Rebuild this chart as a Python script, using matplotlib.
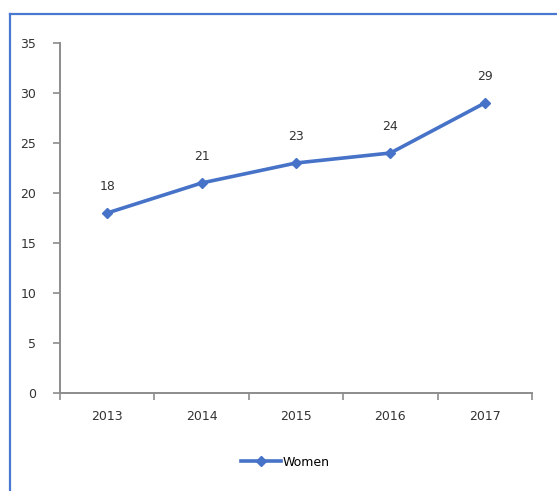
import matplotlib.pyplot as plt
from matplotlib.lines import Line2D

years = ['2013', '2014', '2015', '2016', '2017']
women = [18, 21, 23, 24, 29]

line_color = '#4673c8'
axis_color = '#8c8c8c'

fig = plt.figure(figsize=(5.57, 4.91), dpi=100)
ax = fig.add_axes([60/557, 1 - 393/491, 472/557, 350/491])

x = list(range(len(years)))
ax.plot(x, women, color=line_color, lw=2.6, marker='D', ms=5, label='Women')
for xi, v in zip(x, women):
    ax.annotate(str(v), (xi, v), xytext=(0, 19), textcoords='offset points',
                ha='center', va='center', fontsize=9, color='#333333')

ax.set_xlim(-0.5, len(years) - 0.5)
ax.set_ylim(0, 35)
ax.set_yticks(range(0, 36, 5))
ax.set_xticks(x)
ax.set_xticklabels(years)
ax.set_xticks([i - 0.5 for i in range(len(years) + 1)], minor=True)
ax.tick_params(axis='x', which='major', length=0, pad=12, labelsize=9, labelcolor='#333333')
ax.tick_params(axis='x', which='minor', length=5, color=axis_color, width=1.2)
ax.tick_params(axis='y', length=5, color=axis_color, width=1.2, pad=12,
               labelsize=9, labelcolor='#333333')

for s in ['top', 'right']:
    ax.spines[s].set_visible(False)
for s in ['left', 'bottom']:
    ax.spines[s].set_color(axis_color)
    ax.spines[s].set_linewidth(1.4)

leg = fig.legend(loc='center', bbox_to_anchor=(285/557, 1 - 462/491), frameon=False,
                 fontsize=9, handlelength=3.2, handletextpad=0.1)

# blue frame on left and top
fig.add_artist(Line2D([10/557, 10/557], [0, 1 - 14/491], transform=fig.transFigure,
                      color='#4a78d0', lw=1.6))
fig.add_artist(Line2D([10/557, 1], [1 - 14/491, 1 - 14/491], transform=fig.transFigure,
                      color='#4a78d0', lw=1.6))

fig.savefig('out.png', dpi=100)
